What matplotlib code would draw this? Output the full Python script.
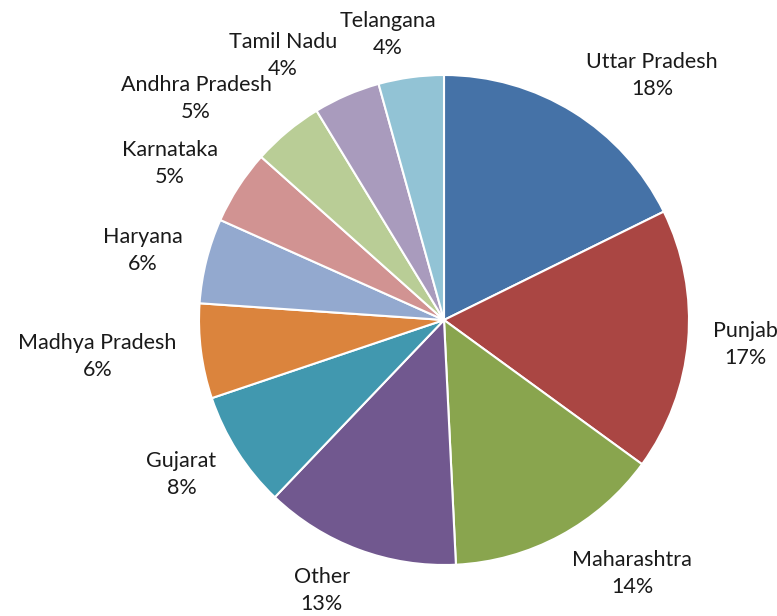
import numpy as np
import matplotlib.pyplot as plt

# Datos del grafico
states = ['Uttar Pradesh', 'Punjab', 'Maharashtra', 'Other', 'Gujarat',
          'Madhya Pradesh', 'Haryana', 'Karnataka', 'Andhra Pradesh',
          'Tamil Nadu', 'Telangana']
shares = [17.7, 17.3, 14.2, 12.9, 7.7, 6.25, 5.6, 4.9, 4.7, 4.4, 4.3]
colors = ['#4572A7', '#AA4643', '#89A54E', '#71588F', '#4198AF', '#DB843D',
          '#93A9CF', '#D19392', '#B9CD96', '#A99BBD', '#92C3D5']

plt.rcParams['font.family'] = ['Lato', 'DejaVu Sans']

fig = plt.figure(figsize=(7.77, 6.16), dpi=100)
ax = fig.add_axes([199 / 777, 51 / 616, 490 / 777, 490 / 616])

wedges, _ = ax.pie(shares, colors=colors, startangle=90, counterclock=False,
                   wedgeprops=dict(edgecolor='white', linewidth=1.5))
ax.set_xlim(-1, 1)
ax.set_ylim(-1, 1)
ax.set_axis_off()

total = sum(shares)
fig.canvas.draw()
renderer = fig.canvas.get_renderer()
inv = ax.transData.inverted()

# etiquetas fuera del pastel, pegadas al borde (estilo Excel)
for w, name, v in zip(wedges, states, shares):
    ang = np.deg2rad((w.theta1 + w.theta2) / 2)
    t = ax.text(0, 0, f'{name}\n{round(v / total * 100)}%', ha='center',
                va='center', fontsize=15.5, color='#1a1a1a', linespacing=1.45,
                clip_on=False)
    bb = t.get_window_extent(renderer)
    p0 = inv.transform((bb.x0, bb.y0))
    p1 = inv.transform((bb.x1, bb.y1))
    hw, hh = (p1[0] - p0[0]) / 2, (p1[1] - p0[1]) / 2
    r = 1.1
    dx = hw * np.clip(3 * np.cos(ang), -1, 1)
    dy = hh * np.sin(ang) * 0.8
    t.set_position((r * np.cos(ang) + dx, r * np.sin(ang) + dy))

fig.savefig('out.png', dpi=100, facecolor='white')
